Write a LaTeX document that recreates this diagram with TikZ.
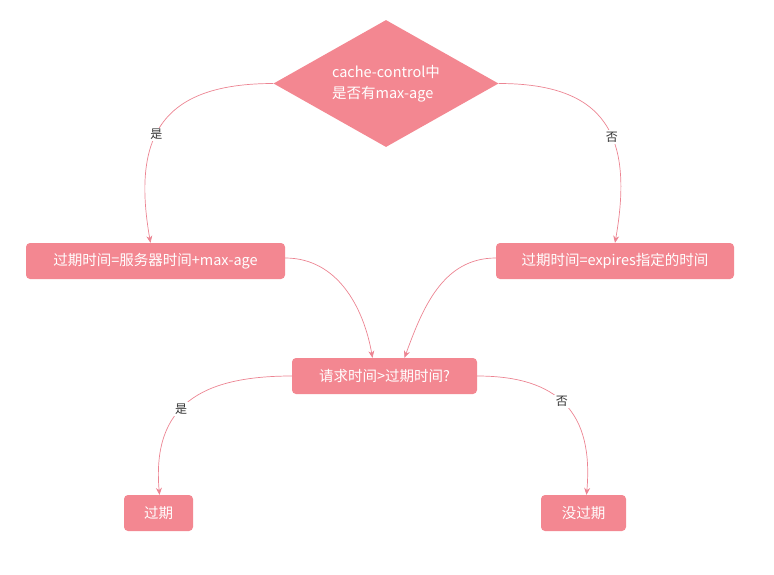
\documentclass[tikz,border=0pt]{standalone}
\usepackage{fontspec}
\setmainfont{Noto Sans CJK SC}
\usetikzlibrary{shapes.geometric,arrows.meta}
\definecolor{flowpink}{RGB}{243,135,145}
\definecolor{linkpink}{RGB}{236,132,146}

\begin{document}
\begin{tikzpicture}[x=1pt,y=-1pt,
    box/.style={rectangle,rounded corners=4pt,fill=flowpink,text=white,inner sep=0pt,minimum height=36pt,font=\fontsize{14.5}{17}\selectfont},
    decision/.style={diamond,fill=flowpink,text=white,inner sep=0pt,aspect=1.77,minimum width=225pt,minimum height=127pt,align=left,font=\fontsize{14.5}{21}\selectfont},
    link/.style={draw=linkpink,line width=0.7pt,-{Stealth[length=7pt,width=6pt]}},
    lbl/.style={fill=white,inner sep=1.5pt,text=black!80,font=\fontsize{12}{14}\selectfont}]
    \useasboundingbox (0,0) rectangle (774,574);

    \node at (386,83.5) [decision] (q1) {cache-control中\\是否有max-age};

    \node at (155.5,261) [box,minimum width=259pt] (maxage) {过期时间=服务器时间+max-age};
    \node at (615,261) [box,minimum width=238pt] (expires) {过期时间=expires指定的时间};

    \node at (384.5,376) [box,minimum width=185pt] (q2) {请求时间>过期时间?};

    \node at (158.5,513) [box,minimum width=69pt] (stale) {过期};
    \node at (583.5,513) [box,minimum width=85pt] (fresh) {没过期};

    \draw[link] (q1.west) to[out=180,in=100,looseness=1.4] node[lbl,pos=0.57] {是} ([xshift=-5pt]maxage.north);
    \draw[link] (q1.east) to[out=0,in=80,looseness=1.4] node[lbl,pos=0.58] {否} (expires.north);
    \draw[link] ([yshift=3pt]maxage.east) to[out=0,in=100] ([xshift=-12pt]q2.north);
    \draw[link] ([yshift=3pt]expires.west) to[out=180,in=70] ([xshift=20pt]q2.north);
    \draw[link] (q2.west) to[out=180,in=95,looseness=1.3] node[lbl,pos=0.56] {是} ([xshift=1pt]stale.north);
    \draw[link] (q2.east) to[out=0,in=85,looseness=1.3] node[lbl,pos=0.47] {否} ([xshift=3pt]fresh.north);
\end{tikzpicture}
\end{document}
